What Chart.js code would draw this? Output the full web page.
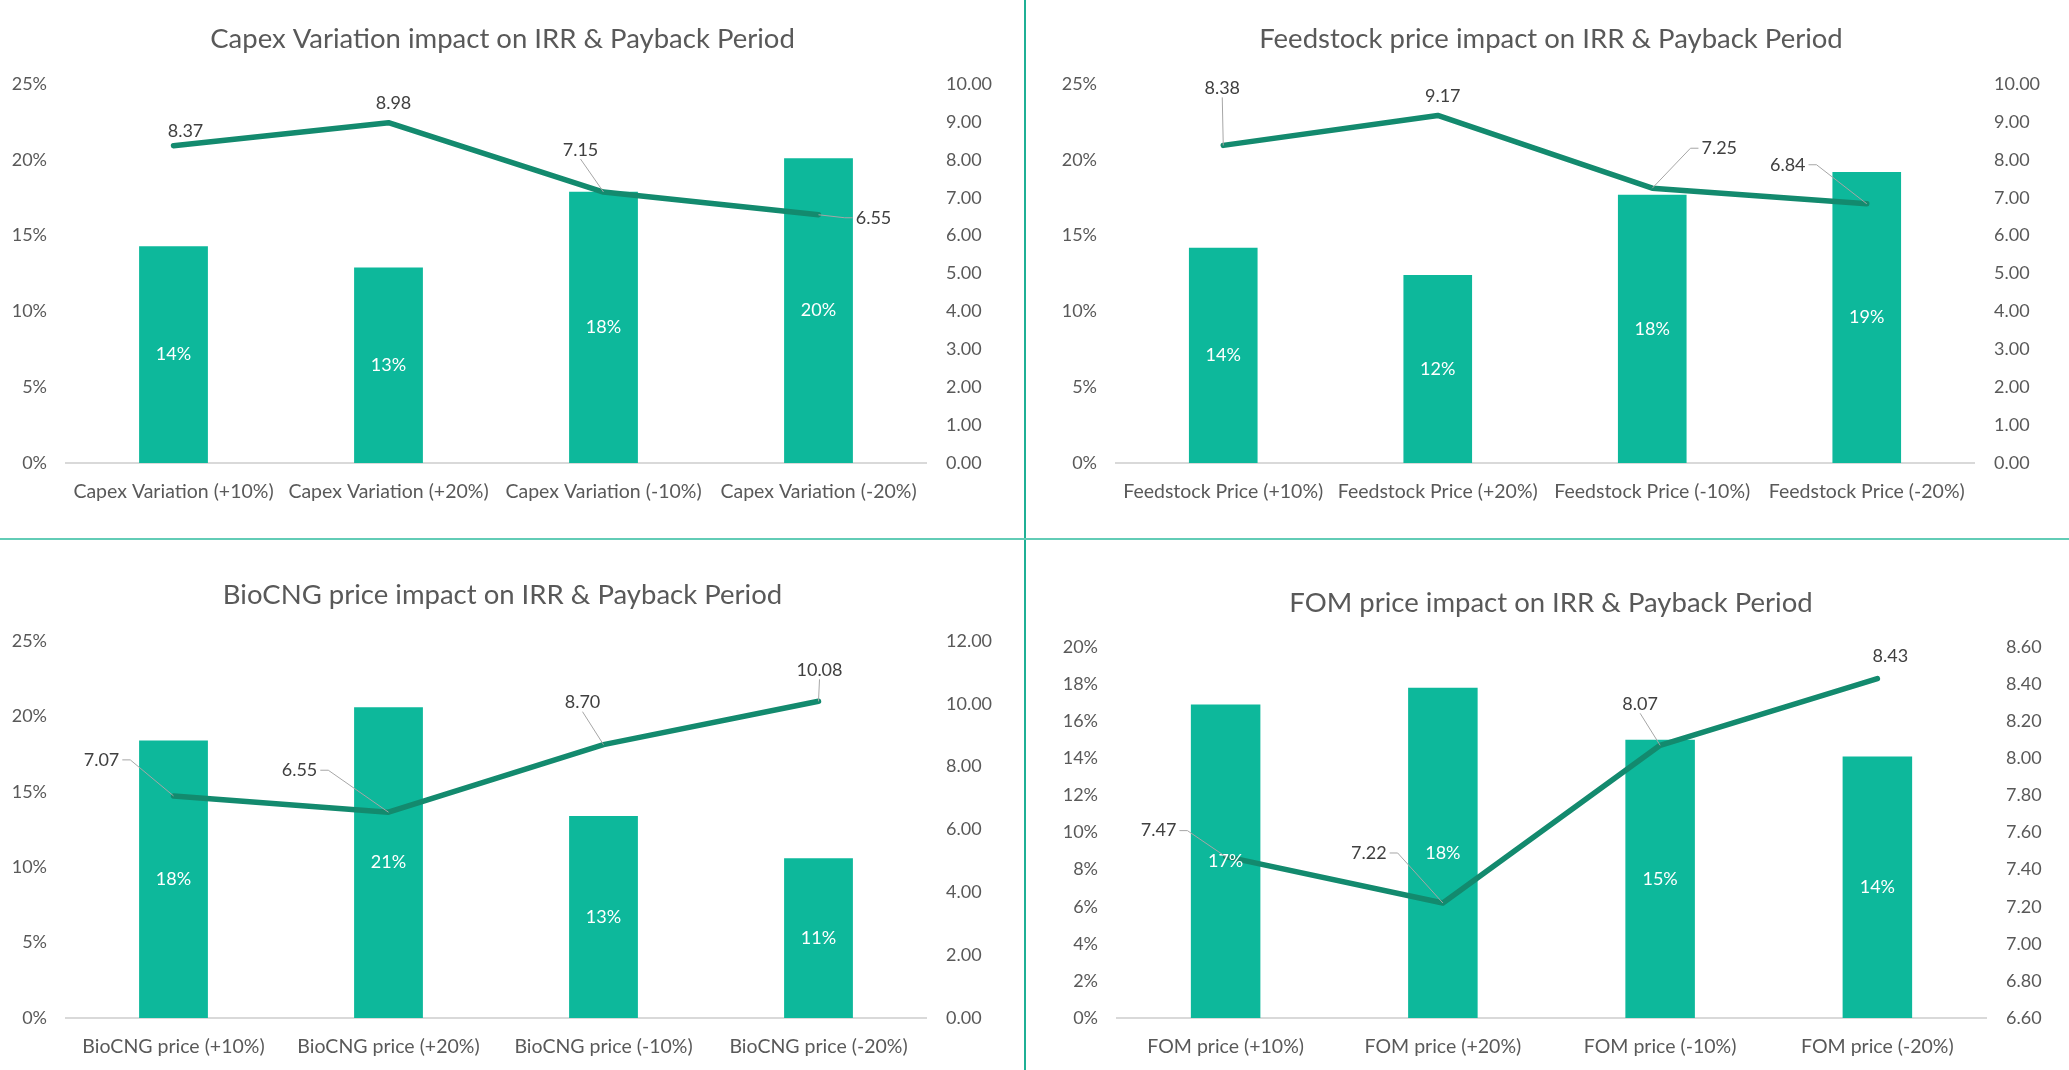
<!DOCTYPE html>
<html>
<head>
<meta charset="utf-8">
<script src="https://cdn.jsdelivr.net/npm/chart.js@4.4.0/dist/chart.umd.min.js"></script>
<style>
  html, body { margin: 0; padding: 0; background: #fff; }
  body { width: 2069px; height: 1070px; position: relative; overflow: hidden; }
  canvas { position: absolute; }
  .vline { position: absolute; left: 1024px; top: 0; width: 2px; height: 1070px; background: #1fb095; }
  .hline { position: absolute; left: 0; top: 538px; width: 2069px; height: 2px; background: #62ccb6; }
</style>
</head>
<body>
<canvas id="c1" width="1005" height="538" style="left:0;top:0"></canvas>
<canvas id="c2" width="1036" height="538" style="left:1033px;top:0"></canvas>
<canvas id="c3" width="1005" height="530" style="left:0;top:540px"></canvas>
<canvas id="c4" width="1036" height="530" style="left:1033px;top:540px"></canvas>
<div class="vline"></div>
<div class="hline"></div>
<script>
// Chart data (IRR in %, payback period in years)
const capexCats = ["Capex Variation (+10%)", "Capex Variation (+20%)", "Capex Variation (-10%)", "Capex Variation (-20%)"];
const capexIrr = [14.3, 12.9, 17.9, 20.1];
const capexPayback = [8.37, 8.98, 7.15, 6.55];

const feedCats = ["Feedstock Price (+10%)", "Feedstock Price (+20%)", "Feedstock Price (-10%)", "Feedstock Price (-20%)"];
const feedIrr = [14.2, 12.4, 17.7, 19.2];
const feedPayback = [8.38, 9.17, 7.25, 6.84];

const biocngCats = ["BioCNG price (+10%)", "BioCNG price (+20%)", "BioCNG price (-10%)", "BioCNG price (-20%)"];
const biocngIrr = [18.4, 20.6, 13.4, 10.6];
const biocngPayback = [7.07, 6.55, 8.70, 10.08];

const fomCats = ["FOM price (+10%)", "FOM price (+20%)", "FOM price (-10%)", "FOM price (-20%)"];
const fomIrr = [16.9, 17.8, 15.0, 14.1];
const fomPayback = [7.47, 7.22, 8.07, 8.43];

// axis ranges: [min, max, step]
const irrAxisA = [0, 25, 5];
const irrAxisB = [0, 20, 2];
const paybackAxisA = [0, 10, 1];
const paybackAxisB = [0, 12, 2];
const paybackAxisC = [6.6, 8.6, 0.2];

const FONT = "Lato, 'Open Sans', sans-serif";
const TEXT = "#595959";

// draws % labels in the bars and payback labels (with leader lines) on the line
const valueLabels = {
  id: "valueLabels",
  afterDatasetsDraw(chart, args, opts) {
    const ctx = chart.ctx;
    ctx.save();
    ctx.font = "18px " + FONT;
    ctx.textAlign = "center";
    ctx.textBaseline = "middle";

    chart.getDatasetMeta(0).data.forEach((bar, i) => {
      const v = chart.data.datasets[0].data[i];
      ctx.fillStyle = "#ffffff";
      ctx.fillText(Math.round(v) + "%", bar.x, (bar.y + bar.base) / 2);
    });

    chart.getDatasetMeta(1).data.forEach((pt, i) => {
      const v = chart.data.datasets[1].data[i];
      const [dx, dy, leader] = opts.offsets[i];
      const cx = pt.x + dx, cy = pt.y + dy;
      const text = v.toFixed(2);
      if (leader) {
        const w = ctx.measureText(text).width;
        const left = cx - w / 2 - 3, right = cx + w / 2 + 3;
        const top = cy - 9, bottom = cy + 9;
        const hg = Math.max(0, left - pt.x, pt.x - right);
        const vg = Math.max(0, top - pt.y, pt.y - bottom);
        ctx.strokeStyle = "#a6a6a6";
        ctx.lineWidth = 1;
        ctx.beginPath();
        if (vg > hg) {
          ctx.moveTo(cx, pt.y > cy ? bottom : top);
        } else {
          const sx = pt.x > cx ? right : left;
          ctx.moveTo(sx, cy);
          ctx.lineTo(sx + (pt.x > cx ? 8 : -8), cy);
        }
        ctx.lineTo(pt.x, pt.y);
        ctx.stroke();
      }
      ctx.fillStyle = "#404040";
      ctx.fillText(text, cx, cy);
    });
    ctx.restore();
  }
};

function makeChart(id, title, cats, irr, payback, irrAxis, pbAxis, box) {
  const fixW = w => function (s) { s.width = w; };
  new Chart(document.getElementById(id), {
    type: "bar",
    data: {
      labels: cats,
      datasets: [
        {
          type: "bar",
          data: irr,
          backgroundColor: "#0db89b",
          barPercentage: 0.32,
          categoryPercentage: 1,
          yAxisID: "y",
          order: 1
        },
        {
          type: "line",
          data: payback,
          borderColor: "#138a6e",
          borderWidth: 5.5,
          borderCapStyle: "round",
          borderJoinStyle: "round",
          pointRadius: 0,
          tension: 0,
          yAxisID: "y1",
          order: 0
        }
      ]
    },
    options: {
      responsive: false,
      animation: false,
      layout: { padding: 0 },
      plugins: {
        legend: { display: false },
        tooltip: { enabled: false },
        title: {
          display: true,
          text: title,
          color: TEXT,
          font: { family: FONT, size: 27.5, weight: "normal" },
          padding: { top: box.titleTop, bottom: box.titleBottom }
        },
        valueLabels: { offsets: box.offsets }
      },
      scales: {
        x: {
          grid: { display: false, drawTicks: false },
          border: { display: true, color: "#d9d9d9", width: 2 },
          ticks: { color: TEXT, font: { family: FONT, size: 19.5 }, padding: 17, maxRotation: 0, autoSkip: false },
          afterFit(s) { s.height = box.bottom; }
        },
        y: {
          position: "left",
          min: irrAxis[0], max: irrAxis[1],
          grid: { display: false, drawTicks: false },
          border: { display: false },
          ticks: { stepSize: irrAxis[2], color: TEXT, font: { family: FONT, size: 18 }, padding: 19,
                   callback: v => v + "%" },
          afterFit: fixW(box.left)
        },
        y1: {
          position: "right",
          min: pbAxis[0], max: pbAxis[1],
          grid: { display: false, drawTicks: false },
          border: { display: false },
          ticks: { stepSize: pbAxis[2], color: TEXT, font: { family: FONT, size: 18 }, padding: 20,
                   callback: v => Number(v).toFixed(2) },
          afterFit: fixW(box.right)
        }
      }
    },
    plugins: [valueLabels]
  });
}

makeChart("c1", "Capex Variation impact on IRR & Payback Period", capexCats, capexIrr, capexPayback,
  irrAxisA, paybackAxisA,
  { left: 66, right: 79, bottom: 75, titleTop: 23, titleBottom: 28,
    offsets: [[12, -15, false], [5, -19, false], [-23, -42, true], [55, 3, true]] });

makeChart("c2", "Feedstock price impact on IRR & Payback Period", feedCats, feedIrr, feedPayback,
  irrAxisA, paybackAxisA,
  { left: 83, right: 95, bottom: 75, titleTop: 23, titleBottom: 28,
    offsets: [[-1, -57, true], [5, -19, false], [67, -40, true], [-79, -39, true]] });

makeChart("c3", "BioCNG price impact on IRR & Payback Period", biocngCats, biocngIrr, biocngPayback,
  irrAxisA, paybackAxisB,
  { left: 66, right: 79, bottom: 52, titleTop: 39, titleBottom: 29,
    offsets: [[-72, -36, true], [-89, -42, true], [-21, -42, true], [1, -31, true]] });

makeChart("c4", "FOM price impact on IRR & Payback Period", fomCats, fomIrr, fomPayback,
  irrAxisB, paybackAxisC,
  { left: 84, right: 83, bottom: 52, titleTop: 47, titleBottom: 27,
    offsets: [[-67, -26, true], [-74, -50, true], [-20, -41, true], [13, -22, false]] });
</script>
</body>
</html>
